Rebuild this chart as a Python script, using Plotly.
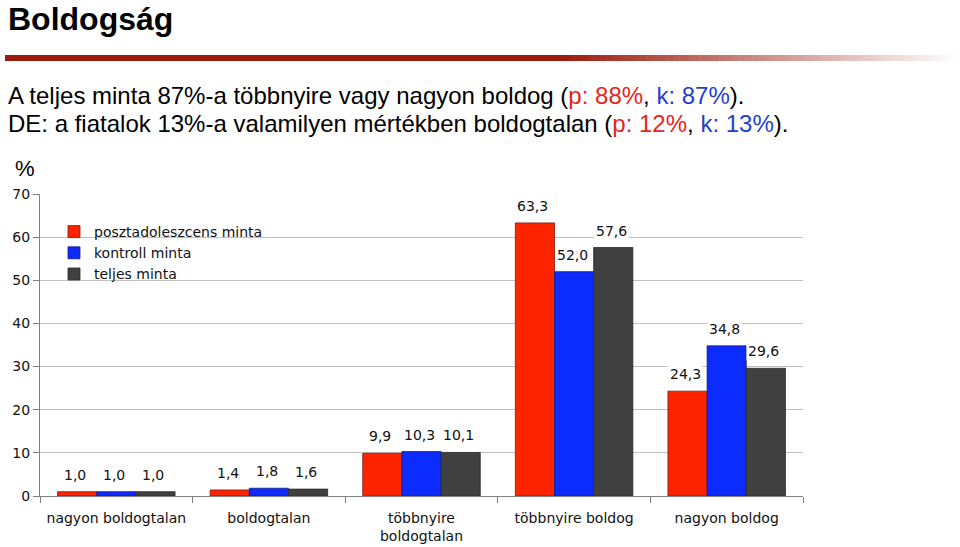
import plotly.graph_objects as go

# ---- data ----
categories = ["nagyon boldogtalan", "boldogtalan", "többnyire<br>boldogtalan",
              "többnyire boldog", "nagyon boldog"]
series_names = ["posztadoleszcens minta", "kontroll minta", "teljes minta"]
posztadoleszcens = [1.0, 1.4, 9.9, 63.3, 24.3]
kontroll = [1.0, 1.8, 10.3, 52.0, 34.8]
teljes = [1.0, 1.6, 10.1, 57.6, 29.6]
y_ticks = [0, 10, 20, 30, 40, 50, 60, 70]

colors = ["#ff2400", "#0b2bff", "#404040"]
outline = ["#7a1a10", "#1a1a7a", "#2a2a2a"]

W, H = 960, 547
L, R, T, B = 40, 157, 194, 51
PW, PH = W - L - R, H - T - B
BARGAP = 0.23


def px_x(px):
    return (px - L) / PW


def px_y(py):
    return (H - B - py) / PH


head_font = "Liberation Sans, Arial, sans-serif"
chart_font = "DejaVu Sans, Verdana, sans-serif"

fig = go.Figure()
all_series = [posztadoleszcens, kontroll, teljes]
for name, vals, c, oc in zip(series_names, all_series, colors, outline):
    fig.add_trace(go.Bar(
        name=name, x=categories, y=vals,
        marker=dict(color=c, line=dict(color=oc, width=0.8)),
    ))

# data labels (annotations with white background, like the original)
cat_px = PW / len(categories)
bar_px = cat_px * (1 - BARGAP) / len(all_series)
for j, vals in enumerate(all_series):
    for cat, v in zip(categories, vals):
        fig.add_annotation(
            x=cat, y=v, xref="x", yref="y",
            text=f"{v:.1f}".replace(".", ","),
            showarrow=False, xshift=(j - 1) * bar_px - 2, yshift=17,
            font=dict(family=chart_font, size=14, color="#111"),
            bgcolor="white", borderpad=1,
        )

# header texts
fig.add_annotation(x=px_x(6), y=px_y(19), xref="paper", yref="paper",
                   text="<b>Boldogság</b>", showarrow=False, xanchor="left",
                   yanchor="middle", font=dict(family=head_font, size=32, color="black"))
fig.add_annotation(x=px_x(6), y=px_y(96), xref="paper", yref="paper",
                   text="A teljes minta 87%-a többnyire vagy nagyon boldog (<span style='color:#e8251a'>p: 88%</span>, <span style='color:#1f3fd0'>k: 87%</span>).",
                   showarrow=False, xanchor="left", yanchor="middle",
                   font=dict(family=head_font, size=24, color="black"))
fig.add_annotation(x=px_x(6), y=px_y(123), xref="paper", yref="paper",
                   text="DE: a fiatalok 13%-a valamilyen mértékben boldogtalan (<span style='color:#e8251a'>p: 12%</span>, <span style='color:#1f3fd0'>k: 13%</span>).",
                   showarrow=False, xanchor="left", yanchor="middle",
                   font=dict(family=head_font, size=24, color="black"))
fig.add_annotation(x=px_x(25), y=px_y(168), xref="paper", yref="paper",
                   text="%", showarrow=False, xanchor="center", yanchor="middle",
                   font=dict(family=head_font, size=22, color="black"))

# red divider line with gradient fade
shapes = []
shapes.append(dict(type="rect", xref="paper", yref="paper",
                   x0=px_x(5), x1=px_x(560), y0=px_y(61), y1=px_y(55),
                   fillcolor="#9b1a0a", line=dict(width=0), layer="above"))
n = 60
start, end = 560, 958
for i in range(n):
    t = (i + 0.5) / n
    r = int(0x9b + (255 - 0x9b) * t)
    g = int(0x1a + (255 - 0x1a) * t)
    b = int(0x0a + (255 - 0x0a) * t)
    xa = start + (end - start) * i / n
    xb = start + (end - start) * (i + 1) / n + 0.5
    shapes.append(dict(type="rect", xref="paper", yref="paper",
                       x0=px_x(xa), x1=px_x(xb), y0=px_y(61), y1=px_y(55),
                       fillcolor=f"rgb({r},{g},{b})", line=dict(width=0), layer="above"))
# white box under the legend hiding gridlines
shapes.append(dict(type="rect", xref="paper", yref="paper",
                   x0=px_x(51), x1=px_x(290), y0=px_y(290), y1=px_y(205),
                   fillcolor="white", line=dict(width=0), layer="between"))

fig.update_layout(
    width=W, height=H,
    margin=dict(l=L, r=R, t=T, b=B, pad=0, autoexpand=False),
    paper_bgcolor="white", plot_bgcolor="white",
    barmode="group", bargap=BARGAP, bargroupgap=0,
    shapes=shapes,
    showlegend=True,
    legend=dict(x=px_x(54), y=px_y(216), xanchor="left", yanchor="top",
                bgcolor="rgba(255,255,255,0)", borderwidth=0,
                font=dict(family=chart_font, size=14, color="#111"),
                itemwidth=30, tracegroupgap=0),
    font=dict(family=chart_font, size=14, color="#111"),
)
fig.update_xaxes(
    automargin=False,
    showline=True, linecolor="#808080", linewidth=1,
    ticks="outside", tickson="boundaries", ticklen=6, tickcolor="#808080",
    tickfont=dict(family=chart_font, size=14, color="#111"),
    ticklabelstandoff=9,
    showgrid=False, zeroline=False,
)
fig.update_yaxes(
    automargin=False,
    range=[0, 70], tickvals=y_ticks, ticktext=[str(v) for v in y_ticks],
    showline=True, linecolor="#808080", linewidth=1,
    ticks="outside", ticklen=6, tickcolor="#808080",
    tickfont=dict(family=chart_font, size=14, color="#111"),
    showgrid=True, gridcolor="#c0c0c0", gridwidth=1, zeroline=False,
)

fig.write_html("out.html", config={"displayModeBar": False},
               post_script="document.body.style.margin='0px';")
